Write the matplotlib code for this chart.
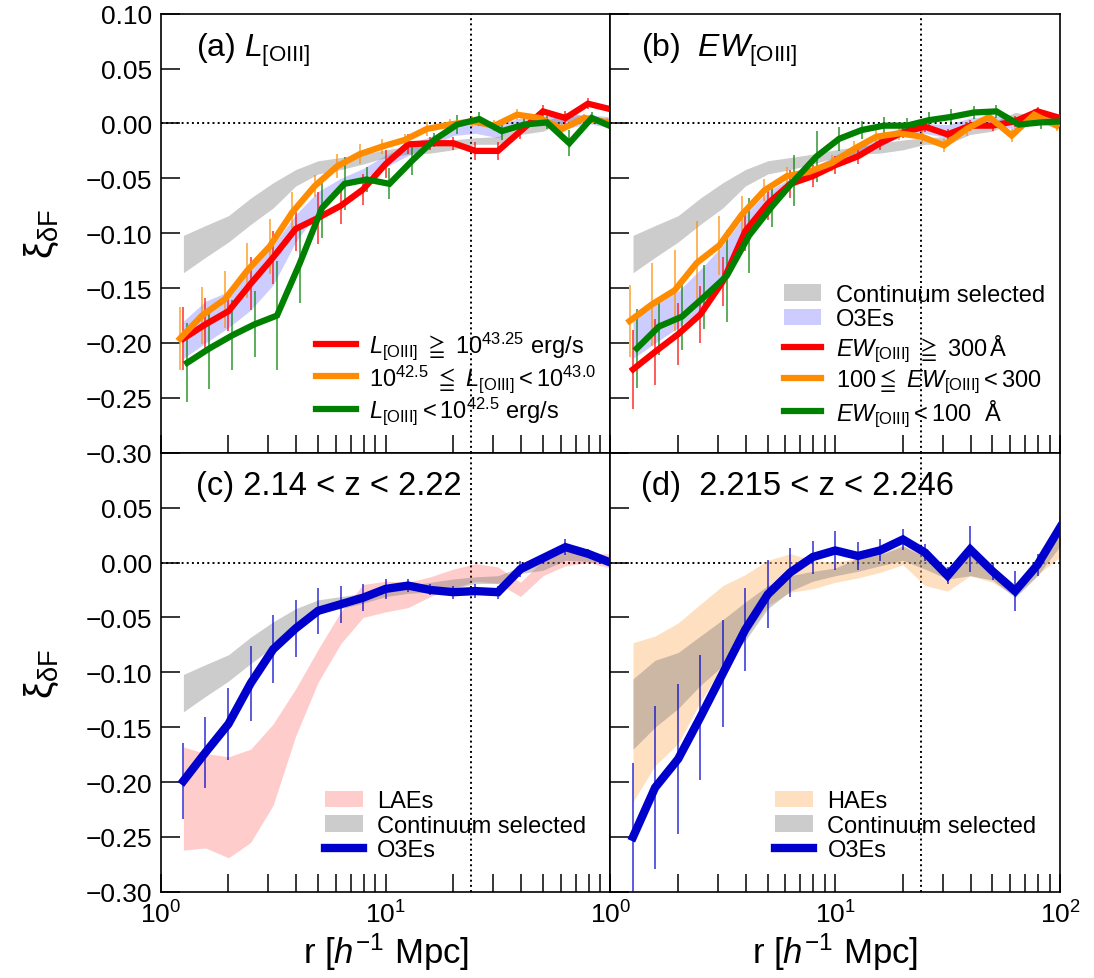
import numpy as np
import matplotlib
matplotlib.use("Agg")
import matplotlib.pyplot as plt

plt.rcParams['font.family'] = ['Liberation Sans', 'DejaVu Sans']
plt.rcParams['mathtext.fontset'] = 'custom'
plt.rcParams['mathtext.rm'] = 'Liberation Sans'
plt.rcParams['mathtext.it'] = 'Liberation Sans:italic'
plt.rcParams['mathtext.bf'] = 'Liberation Sans:bold'
plt.rcParams['mathtext.sf'] = 'Liberation Sans'
plt.rcParams['mathtext.fallback'] = 'stixsans'

# separation bins [h^-1 Mpc]
r = [1.26, 1.58, 2.00, 2.51, 3.16, 3.98, 5.01, 6.31, 7.94, 10.0,
     12.6, 15.8, 20.0, 25.1, 31.6, 39.8, 50.1, 63.1, 79.4, 100.0]

# continuum selected galaxies (a, b, c)
cont_hi = [-0.102, -0.093, -0.084, -0.068, -0.054, -0.042, -0.034, -0.031, -0.028, -0.024,
           -0.021, -0.018, -0.015, -0.013, -0.012, -0.004, 0.001, 0.010, 0.007, 0.004]
cont_lo = [-0.136, -0.122, -0.108, -0.092, -0.077, -0.057, -0.046, -0.042, -0.037, -0.031,
           -0.028, -0.027, -0.024, -0.019, -0.019, -0.010, -0.007, 0.002, 0.001, -0.002]

# all O3Es band (a, b)
o3e_hi = [-0.180, -0.162, -0.153, -0.133, -0.111, -0.083, -0.062, -0.050, -0.041, -0.029,
          -0.019, -0.012, -0.003, 0.000, -0.001, 0.005, 0.007, 0.006, 0.008, 0.006]
o3e_lo = [-0.214, -0.200, -0.186, -0.170, -0.147, -0.108, -0.080, -0.058, -0.050, -0.040,
          -0.029, -0.021, -0.011, -0.009, -0.013, -0.003, -0.002, -0.005, 0.000, -0.004]

# (a) L[OIII] subsamples
red_a = [-0.196, -0.183, -0.171, -0.146, -0.122, -0.096, -0.086, -0.075, -0.060, -0.037,
         -0.019, -0.018, -0.018, -0.025, -0.025, -0.007, 0.011, 0.005, 0.018, 0.013]
red_a_err = [0.029, 0.024, 0.018, 0.024, 0.024, 0.020, 0.024, 0.017, 0.014, 0.013,
             0.009, 0.006, 0.006, 0.008, 0.008, 0.007, 0.006, 0.006, 0.005, 0.005]
orange_a = [-0.196, -0.175, -0.160, -0.134, -0.112, -0.081, -0.057, -0.039, -0.028, -0.021,
            -0.015, -0.005, -0.001, 0.002, -0.002, 0.008, 0.005, -0.005, 0.005, 0.001]
orange_a_err = [0.029, 0.026, 0.026, 0.025, 0.025, 0.019, 0.010, 0.011, 0.009, 0.007,
                0.005, 0.006, 0.005, 0.005, 0.005, 0.005, 0.005, 0.005, 0.004, 0.004]
green_a = [-0.218, -0.205, -0.193, -0.183, -0.175, -0.128, -0.077, -0.055, -0.051, -0.055,
           -0.034, -0.015, -0.001, 0.004, -0.007, -0.001, 0.001, -0.018, 0.005, -0.004]
green_a_err = [0.036, 0.037, 0.032, 0.030, 0.050, 0.036, 0.027, 0.024, 0.011, 0.014,
               0.013, 0.006, 0.009, 0.006, 0.008, 0.007, 0.006, 0.012, 0.005, 0.005]

# (b) EW[OIII] subsamples
red_b = [-0.224, -0.208, -0.192, -0.174, -0.144, -0.098, -0.073, -0.055, -0.048, -0.038,
         -0.030, -0.018, -0.008, -0.003, -0.010, -0.002, -0.002, 0.002, 0.011, 0.005]
red_b_err = [0.036, 0.030, 0.028, 0.026, 0.022, 0.018, 0.015, 0.013, 0.010, 0.008,
             0.007, 0.006, 0.005, 0.005, 0.005, 0.005, 0.005, 0.005, 0.004, 0.004]
orange_b = [-0.180, -0.165, -0.152, -0.127, -0.111, -0.083, -0.061, -0.048, -0.044, -0.036,
            -0.023, -0.012, -0.009, -0.012, -0.020, -0.005, 0.006, -0.011, 0.008, -0.002]
orange_b_err = [0.033, 0.038, 0.037, 0.038, 0.027, 0.017, 0.010, 0.008, 0.007, 0.007,
                0.007, 0.006, 0.006, 0.006, 0.006, 0.006, 0.005, 0.006, 0.005, 0.005]
green_b = [-0.205, -0.185, -0.176, -0.158, -0.139, -0.102, -0.076, -0.052, -0.030, -0.014,
           -0.006, -0.002, -0.002, 0.003, 0.006, 0.010, 0.011, -0.001, 0.001, 0.002]
green_b_err = [0.036, 0.026, 0.030, 0.029, 0.042, 0.034, 0.018, 0.023, 0.023, 0.011,
               0.008, 0.008, 0.007, 0.007, 0.007, 0.006, 0.006, 0.006, 0.006, 0.005]

# x shift of the subsamples so error bars do not overlap
shift = {'orange': 0.965, 'red': 1.0, 'green': 1.04}

# (c) 2.14 < z < 2.22
lae_hi = [-0.168, -0.174, -0.177, -0.170, -0.147, -0.115, -0.079, -0.045, -0.020, -0.017,
          -0.018, -0.013, -0.006, -0.001, -0.004, -0.018, 0.002, 0.011, 0.008, 0.008]
lae_lo = [-0.262, -0.260, -0.269, -0.255, -0.221, -0.158, -0.109, -0.074, -0.050, -0.045,
          -0.041, -0.031, -0.023, -0.017, -0.019, -0.031, -0.012, -0.003, 0.000, -0.005]
o3e_c = [-0.199, -0.173, -0.147, -0.110, -0.079, -0.060, -0.044, -0.038, -0.032, -0.024,
         -0.021, -0.025, -0.027, -0.026, -0.027, -0.006, 0.004, 0.014, 0.008, 0.000]
o3e_c_err = [0.035, 0.032, 0.033, 0.034, 0.031, 0.026, 0.021, 0.017, 0.012, 0.009,
             0.006, 0.005, 0.006, 0.006, 0.006, 0.007, 0.004, 0.007, 0.004, 0.004]

# (d) 2.215 < z < 2.246
hae_hi = [-0.073, -0.067, -0.055, -0.038, -0.021, -0.011, 0.002, 0.008, 0.002, 0.000,
          0.004, 0.008, 0.016, 0.006, -0.008, 0.008, -0.004, -0.020, 0.002, 0.025]
hae_lo = [-0.218, -0.185, -0.165, -0.127, -0.094, -0.067, -0.039, -0.027, -0.024, -0.018,
          -0.014, -0.009, -0.002, -0.021, -0.026, -0.012, -0.018, -0.030, -0.011, 0.005]
cont_d_hi = [-0.106, -0.089, -0.082, -0.067, -0.052, -0.036, -0.021, -0.012, -0.008, -0.005,
             0.004, 0.007, 0.015, 0.005, -0.005, 0.008, -0.003, -0.022, -0.002, 0.025]
cont_d_lo = [-0.170, -0.150, -0.133, -0.112, -0.094, -0.071, -0.042, -0.026, -0.017, -0.012,
             -0.008, -0.003, 0.002, -0.006, -0.015, -0.012, -0.016, -0.032, -0.012, 0.015]
o3e_d = [-0.250, -0.205, -0.179, -0.141, -0.101, -0.061, -0.029, -0.009, 0.005, 0.011,
         0.006, 0.011, 0.021, 0.009, -0.012, 0.012, -0.008, -0.026, -0.002, 0.032]
o3e_d_err = [0.067, 0.074, 0.068, 0.057, 0.049, 0.038, 0.031, 0.022, 0.015, 0.018,
             0.013, 0.010, 0.010, 0.008, 0.008, 0.021, 0.008, 0.018, 0.010, 0.010]

r_los = 24.0  # vertical reference line

L = r'L_{\rm [OIII]}'
EW = r'EW_{\rm [OIII]}'
labels_a = [r'$%s \ \geqq\ 10^{43.25}$ erg/s' % L,
            r'$10^{42.5}\ \leqq\ %s < 10^{43.0}$' % L,
            r'$%s < 10^{42.5}$ erg/s' % L]
labels_b = [r'$%s\ \geqq\ 300\,$Å' % EW,
            r'$100 \leqq\ %s < 300$' % EW,
            r'$%s < 100$  Å' % EW]

RED, ORANGE, GREEN, BLUE = '#ff0000', '#ff8c00', '#008000', '#0000cc'
yt = [-0.30, -0.25, -0.20, -0.15, -0.10, -0.05, 0.00, 0.05, 0.10]

fig, axes = plt.subplots(2, 2, figsize=(10.94, 9.79), dpi=100)
fig.subplots_adjust(left=0.147, right=0.969, bottom=0.088, top=0.985, wspace=0, hspace=0)


def base(ax, row, col):
    ax.set_xscale('log')
    ax.set_xlim(1, 100)
    ax.set_ylim(-0.30, 0.10)
    ax.axhline(0, color='k', ls=':', lw=1.4, zorder=1)
    ax.axvline(r_los, color='k', ls=':', lw=1.4, zorder=1)
    ax.tick_params(which='both', direction='in', top=False, right=False, labelsize=19, pad=6)
    ax.tick_params(axis='y', which='major', length=14, width=1.1)
    ax.tick_params(axis='x', which='major', length=13, width=1.1)
    ax.tick_params(axis='x', which='minor', length=13, width=1.1)
    ax.set_yticks(yt)
    if col == 0:
        lab = [('%.2f' % v).replace('-', '\u2212') for v in yt]
        if row == 1:
            lab[-1] = ''
        ax.set_yticklabels(lab)
        ax.set_ylabel(r'$\mathrm{\xi}_{\mathrm{\delta F}}$', fontsize=28, labelpad=18)
    else:
        ax.set_yticklabels([])
    if row == 1:
        xl = [r'$10^0$', r'$10^1$', r'$10^2$' if col == 1 else '']
        ax.set_xticks([1, 10, 100], labels=xl)
        ax.set_xlabel(r'r [$h^{-1}$ Mpc]', fontsize=25, labelpad=2)
    else:
        ax.set_xticks([1, 10, 100], labels=['', '', ''])
    for s in ax.spines.values():
        s.set_linewidth(1.2)


def err_line(ax, x, y, e, c, lw, fac=1.0, label=None):
    xs = [v * fac for v in x]
    ax.errorbar(xs, y, yerr=e, fmt='none', ecolor=c, elinewidth=1.2, alpha=0.75, zorder=3)
    ax.plot(xs, y, color=c, lw=lw, label=label, zorder=4, solid_joinstyle='miter')


# (a)
ax = axes[0, 0]
base(ax, 0, 0)
ax.fill_between(r, o3e_lo, o3e_hi, color='blue', alpha=0.2, lw=0, zorder=2)
ax.fill_between(r, cont_lo, cont_hi, color='#6e6e6e', alpha=0.35, lw=0, zorder=2)
err_line(ax, r, red_a, red_a_err, RED, 4.5, shift['red'], labels_a[0])
err_line(ax, r, orange_a, orange_a_err, ORANGE, 4.5, shift['orange'], labels_a[1])
err_line(ax, r, green_a, green_a_err, GREEN, 4.5, shift['green'], labels_a[2])
ax.legend(loc='lower left', bbox_to_anchor=(0.345, 0.06), frameon=False, fontsize=17,
          handlelength=1.7, handletextpad=0.55, labelspacing=0.05, borderpad=0, borderaxespad=0)
ax.text(0.078, 0.918, r'(a) $L_{\rm [OIII]}$', transform=ax.transAxes, fontsize=23, va='center')

# (b)
ax = axes[0, 1]
base(ax, 0, 1)
ax.fill_between(r, cont_lo, cont_hi, color='#6e6e6e', alpha=0.35, lw=0, zorder=2,
                label='Continuum selected')
ax.fill_between(r, o3e_lo, o3e_hi, color='blue', alpha=0.2, lw=0, zorder=2, label='O3Es')
err_line(ax, r, red_b, red_b_err, RED, 4.5, shift['red'], labels_b[0])
err_line(ax, r, orange_b, orange_b_err, ORANGE, 4.5, shift['orange'], labels_b[1])
err_line(ax, r, green_b, green_b_err, GREEN, 4.5, shift['green'], labels_b[2])
ax.legend(loc='lower left', bbox_to_anchor=(0.385, 0.055), frameon=False, fontsize=17,
          handlelength=1.6, handletextpad=0.6, labelspacing=0.1, borderpad=0, borderaxespad=0)
ax.text(0.068, 0.918, r'(b)  $EW_{\rm [OIII]}$', transform=ax.transAxes, fontsize=23, va='center')

# (c)
ax = axes[1, 0]
base(ax, 1, 0)
ax.fill_between(r, lae_lo, lae_hi, color='red', alpha=0.2, lw=0, zorder=2, label='LAEs')
ax.fill_between(r, cont_lo, cont_hi, color='#6e6e6e', alpha=0.35, lw=0, zorder=2,
                label='Continuum selected')
err_line(ax, r, o3e_c, o3e_c_err, BLUE, 6.0, 1.0, 'O3Es')
ax.legend(loc='lower left', bbox_to_anchor=(0.365, 0.07), frameon=False, fontsize=17,
          handlelength=1.6, handletextpad=0.6, labelspacing=0.1, borderpad=0, borderaxespad=0)
ax.text(0.078, 0.925, '(c) 2.14 < z < 2.22', transform=ax.transAxes, fontsize=23.5, va='center')

# (d)
ax = axes[1, 1]
base(ax, 1, 1)
ax.fill_between(r, hae_lo, hae_hi, color='#fdba74', alpha=0.45, lw=0, zorder=2, label='HAEs')
ax.fill_between(r, cont_d_lo, cont_d_hi, color='#6e6e6e', alpha=0.35, lw=0, zorder=2,
                label='Continuum selected')
err_line(ax, r, o3e_d, o3e_d_err, BLUE, 6.0, 1.0, 'O3Es')
ax.legend(loc='lower left', bbox_to_anchor=(0.367, 0.07), frameon=False, fontsize=17,
          handlelength=1.6, handletextpad=0.6, labelspacing=0.1, borderpad=0, borderaxespad=0)
ax.text(0.068, 0.925, '(d)  2.215 < z < 2.246', transform=ax.transAxes, fontsize=23.5, va='center')

fig.savefig('out.png', dpi=100)
